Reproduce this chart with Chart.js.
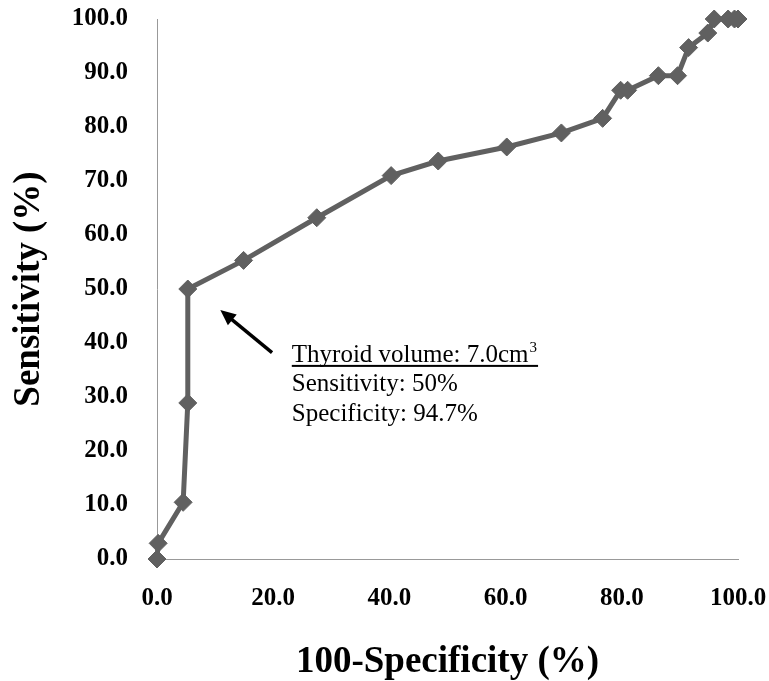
<!DOCTYPE html>
<html>
<head>
<meta charset="utf-8">
<script src="https://cdn.jsdelivr.net/npm/chart.js@4/dist/chart.umd.min.js"></script>
<style>
  body { margin: 0; background: #fff; }
</style>
</head>
<body>
<canvas id="rocChart" width="769" height="681"></canvas>
<script>
// ROC curve points
const specComplement = [0, 0.2, 4.5, 5.3, 5.3, 14.9, 27.5, 40.3, 48.4, 60.2, 69.6, 76.7, 79.8, 81.0, 86.3, 89.6, 91.5, 94.8, 95.9, 98.3, 99.4, 100];
const sensitivity   = [0, 2.9, 10.5, 28.9, 50.0, 55.3, 63.2, 71.0, 73.7, 76.3, 78.9, 81.6, 86.8, 86.8, 89.5, 89.5, 94.7, 97.4, 100, 100, 100, 100];

const noteLines = ['Thyroid volume: 7.0cm', 'Sensitivity: 50%', 'Specificity: 94.7%'];

const serif = "'Liberation Serif', 'Times New Roman', serif";
const points = specComplement.map((x, i) => ({ x: x, y: sensitivity[i] }));

// arrow + cutoff text, placed in data units
const notePlugin = {
    id: 'note',
    afterDraw(chart) {
        const c = chart.ctx;
        const xs = chart.scales.x, ys = chart.scales.y;
        const tipX = xs.getPixelForValue(10.9), tipY = ys.getPixelForValue(46.1);
        const tailX = xs.getPixelForValue(19.8), tailY = ys.getPixelForValue(38.2);

        c.save();
        c.strokeStyle = '#000';
        c.fillStyle = '#000';
        c.lineWidth = 3.5;
        const ang = Math.atan2(tipY - tailY, tipX - tailX);
        const headLen = 17;
        c.beginPath();
        c.moveTo(tailX, tailY);
        c.lineTo(tipX - Math.cos(ang) * headLen * 0.7, tipY - Math.sin(ang) * headLen * 0.7);
        c.stroke();
        c.beginPath();
        c.moveTo(tipX, tipY);
        c.lineTo(tipX - headLen * Math.cos(ang - 0.42), tipY - headLen * Math.sin(ang - 0.42));
        c.lineTo(tipX - headLen * Math.cos(ang + 0.42), tipY - headLen * Math.sin(ang + 0.42));
        c.closePath();
        c.fill();

        const tx = xs.getPixelForValue(23.2);
        const ty = ys.getPixelForValue(36.5);
        c.font = '25px ' + serif;
        c.textBaseline = 'alphabetic';
        c.textAlign = 'left';
        noteLines.forEach((line, i) => c.fillText(line, tx, ty + i * 29.5));

        // superscript and underline on the first line
        const w = c.measureText(noteLines[0]).width;
        c.font = '15px ' + serif;
        c.fillText('3', tx + w + 1, ty - 10);
        const sw = c.measureText('3').width;
        c.fillRect(tx, ty + 3, w + sw + 2, 2);
        c.restore();
    }
};

new Chart(document.getElementById('rocChart'), {
    type: 'scatter',
    data: {
        datasets: [{
            data: points,
            showLine: true,
            borderColor: '#606060',
            borderWidth: 5,
            backgroundColor: '#606060',
            pointStyle: 'rectRot',
            pointRadius: 9,
            pointBorderWidth: 1,
            pointBorderColor: '#606060',
            pointBackgroundColor: '#606060',
            tension: 0
        }]
    },
    options: {
        responsive: false,
        animation: false,
        clip: false,
        layout: { padding: { top: 19, right: 31, left: 0, bottom: 0 } },
        plugins: {
            legend: { display: false },
            tooltip: { enabled: false }
        },
        scales: {
            x: {
                type: 'linear',
                min: 0,
                max: 100,
                afterFit(scale) {
                    scale.height = 122;
                    scale.paddingLeft = 0;
                    scale.paddingRight = 0;
                },
                grid: { display: false, drawTicks: false },
                border: { display: true, color: '#999', width: 1 },
                ticks: {
                    stepSize: 20,
                    padding: 25,
                    color: '#000',
                    font: { family: serif, size: 25, weight: 'bold' },
                    callback: v => v.toFixed(1)
                },
                title: {
                    display: true,
                    text: '100-Specificity (%)',
                    color: '#000',
                    padding: 0,
                    font: { family: serif, size: 37, weight: 'bold', lineHeight: 1 }
                }
            },
            y: {
                type: 'linear',
                min: 0,
                max: 100,
                afterFit(scale) {
                    scale.width = 157;
                    scale.paddingTop = 0;
                    scale.paddingBottom = 0;
                },
                grid: { display: false, drawTicks: false },
                border: { display: true, color: '#999', width: 1 },
                ticks: {
                    stepSize: 10,
                    padding: 29,
                    color: '#000',
                    font: { family: serif, size: 25, weight: 'bold' },
                    callback: v => v.toFixed(1)
                },
                title: {
                    display: true,
                    text: 'Sensitivity (%)',
                    color: '#000',
                    padding: 11,
                    font: { family: serif, size: 37, weight: 'bold', lineHeight: 1 }
                }
            }
        }
    },
    plugins: [notePlugin]
});
</script>
</body>
</html>
